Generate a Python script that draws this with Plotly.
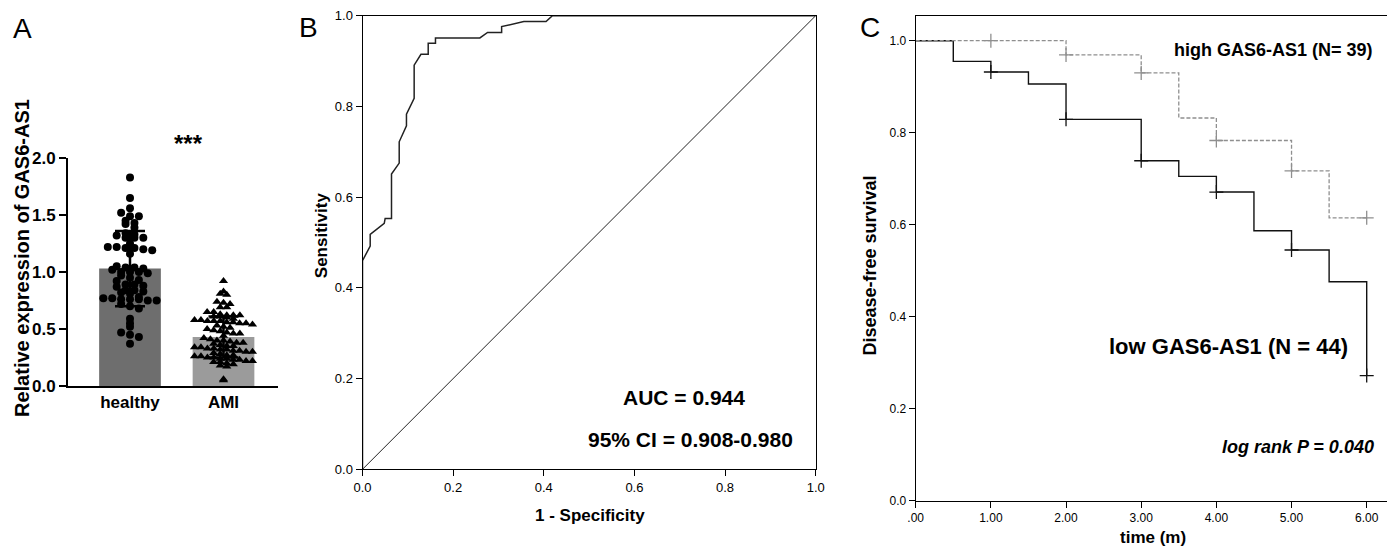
import plotly.graph_objects as go
import numpy as np

# ---------------- data ----------------
# Panel A
groups = ["healthy", "AMI"]
bar_means = [1.03, 0.43]
bar_sds = [0.33, 0.18]
healthy_vals = [1.83, 1.65, 1.56, 1.52, 1.49, 1.49, 1.45, 1.43, 1.42, 1.39,
                1.34, 1.33, 1.32, 1.30, 1.30, 1.30,
                1.25, 1.22, 1.22, 1.21, 1.21, 1.20, 1.19, 1.16,
                1.05, 1.04, 1.04, 1.03, 1.02, 1.00, 1.00, 1.00, 0.99, 0.97,
                0.95, 0.93, 0.92, 0.89, 0.89, 0.88, 0.87,
                0.84, 0.84, 0.83, 0.82, 0.81, 0.78,
                0.77, 0.77, 0.76, 0.76, 0.76, 0.75, 0.75,
                0.72, 0.70, 0.68, 0.59, 0.55, 0.52, 0.47, 0.45, 0.43, 0.37]
ami_vals = [0.92,
            0.83, 0.81, 0.80,
            0.74, 0.73, 0.72, 0.69, 0.69,
            0.65, 0.65, 0.63, 0.62, 0.62, 0.62, 0.61, 0.61, 0.60,
            0.59, 0.58, 0.58, 0.57, 0.57, 0.57, 0.56, 0.56, 0.55, 0.55, 0.54,
            0.53, 0.52, 0.51, 0.50, 0.49, 0.48, 0.47, 0.46, 0.46,
            0.44, 0.42, 0.41, 0.40, 0.40, 0.39, 0.38, 0.38, 0.37,
            0.36, 0.35, 0.35, 0.34, 0.34, 0.33, 0.33, 0.32, 0.32, 0.31, 0.31, 0.30, 0.30, 0.29,
            0.28, 0.27, 0.27, 0.26, 0.26, 0.25, 0.25, 0.24, 0.24, 0.23, 0.23, 0.22, 0.22,
            0.21, 0.21, 0.20, 0.19, 0.18, 0.17,
            0.06, 0.05]
yticks_a = [0.0, 0.5, 1.0, 1.5, 2.0]

# Panel B (ROC)
roc_fpr = [0, 0, 0.017, 0.017, 0.048, 0.050, 0.064, 0.064, 0.081, 0.081, 0.097, 0.097,
           0.114, 0.114, 0.129, 0.145, 0.145, 0.161, 0.161, 0.259, 0.276, 0.307, 0.307,
           0.356, 0.405, 0.419, 1.0]
roc_tpr = [0, 0.46, 0.492, 0.518, 0.542, 0.553, 0.553, 0.651, 0.675, 0.722, 0.757, 0.783,
           0.818, 0.891, 0.915, 0.915, 0.939, 0.939, 0.951, 0.951, 0.963, 0.963, 0.976,
           0.987, 0.987, 1.0, 1.0]
ref_line = [0, 1]
ticks_b = [0.0, 0.2, 0.4, 0.6, 0.8, 1.0]

# Panel C (Kaplan-Meier)
low_t = [0, 0.5, 1.0, 1.5, 2.0, 3.0, 3.5, 4.0, 4.5, 5.0, 5.5, 6.0]
low_s = [1.0, 0.955, 0.932, 0.906, 0.829, 0.739, 0.705, 0.671, 0.587, 0.545, 0.476, 0.272]
low_cens_t = [1, 2, 3, 4, 5, 6]
low_cens_s = [0.932, 0.829, 0.739, 0.671, 0.545, 0.272]
high_t = [0, 2.0, 3.0, 3.5, 4.0, 5.0, 5.5, 6.0]
high_s = [1.0, 0.969, 0.930, 0.832, 0.783, 0.717, 0.615, 0.615]
high_cens_t = [1, 2, 3, 4, 5, 6]
high_cens_s = [1.0, 0.969, 0.930, 0.783, 0.717, 0.615]
xticks_c = [0, 1, 2, 3, 4, 5, 6]
xticklabels_c = [".00", "1.00", "2.00", "3.00", "4.00", "5.00", "6.00"]
yticks_c = [0.0, 0.2, 0.4, 0.6, 0.8, 1.0]

# ---------------- layout helpers ----------------
W, H = 1395, 553          # window size
OFF = 8                   # page body margin
FW, FH = W - OFF, H - OFF  # figure size so it fits the window
def px(x):
    return (x - OFF) / FW
def py(y):
    return 1 - (y - OFF) / FH

FONT = "Liberation Sans, Arial, Helvetica, sans-serif"

def swarm(vals, center, binw, spacing, maxhalf):
    vals = sorted(vals, reverse=True)
    bins = {}
    for v in vals:
        bins.setdefault(int(round(v / binw)), []).append(v)
    xs, ys = [], []
    for k, row in bins.items():
        n = len(row)
        step = spacing if n <= 1 else min(spacing, 2 * maxhalf / (n - 1))
        for i, v in enumerate(row):
            xs.append(center + (i - (n - 1) / 2) * step)
            ys.append(v)
    return xs, ys

fig = go.Figure()

# ---------------- Panel A ----------------
fig.add_trace(go.Bar(x=[0, 1], y=bar_means, width=0.66,
                     marker=dict(color=["#6e6e6e", "#9b9b9b"], line=dict(width=0)),
                     error_y=dict(type="data", array=bar_sds, visible=True,
                                  color="black", thickness=2.5, width=15),
                     xaxis="x", yaxis="y"))
hx, hy = swarm(healthy_vals, 0, 0.05, 0.095, 0.30)
fig.add_trace(go.Scatter(x=hx, y=hy, mode="markers",
                         marker=dict(symbol="circle", size=8, color="black"),
                         xaxis="x", yaxis="y"))
ax_, ay_ = swarm(ami_vals, 1, 0.04, 0.07, 0.31)
fig.add_trace(go.Scatter(x=ax_, y=ay_, mode="markers",
                         marker=dict(symbol="triangle-up", size=8, color="black"),
                         xaxis="x", yaxis="y"))

# ---------------- Panel B ----------------
fig.add_trace(go.Scatter(x=ref_line, y=ref_line, mode="lines",
                         line=dict(color="#222", width=1), xaxis="x2", yaxis="y2"))
fig.add_trace(go.Scatter(x=roc_fpr, y=roc_tpr, mode="lines",
                         line=dict(color="#222", width=1.5), xaxis="x2", yaxis="y2"))

# ---------------- Panel C ----------------
fig.add_trace(go.Scatter(x=low_t, y=low_s, mode="lines", line_shape="hv",
                         line=dict(color="#111", width=1.4), xaxis="x3", yaxis="y3"))
fig.add_trace(go.Scatter(x=low_cens_t, y=low_cens_s, mode="markers",
                         marker=dict(symbol="cross-thin", size=10,
                                     line=dict(color="#111", width=1.3)),
                         xaxis="x3", yaxis="y3"))
fig.add_trace(go.Scatter(x=high_t, y=high_s, mode="lines", line_shape="hv",
                         line=dict(color="#8f8f8f", width=1.3, dash="4px,2px"),
                         xaxis="x3", yaxis="y3"))
fig.add_trace(go.Scatter(x=high_cens_t, y=high_cens_s, mode="markers",
                         marker=dict(symbol="cross-thin", size=10,
                                     line=dict(color="#8f8f8f", width=1.3)),
                         xaxis="x3", yaxis="y3"))

# ---------------- axes ----------------
a_left, a_right, a_bottom, a_top = 68, 278, 386, 158
a_c0, a_c1 = 130, 223.5
a_unit = a_c1 - a_c0
b_left, b_right, b_bottom, b_top = 362.5, 815.7, 469.3, 15.7
c_left, c_x6, c_bottom, c_y1, c_top = 915.7, 1366.7, 500.7, 40.7, 15.7
c_unitx = (c_x6 - c_left) / 6
c_unity = c_bottom - c_y1

fig.update_layout(
    template="none",
    width=FW, height=FH, margin=dict(l=0, r=0, t=0, b=0, autoexpand=False),
    plot_bgcolor="white", paper_bgcolor="white", showlegend=False,
    font=dict(family=FONT, color="black"),
    xaxis=dict(domain=[px(a_left), px(a_right)],
               range=[(a_left - a_c0) / a_unit, (a_right - a_c0) / a_unit],
               showline=True, linecolor="black", linewidth=2, showgrid=False, zeroline=False,
               tickvals=[0, 1], ticktext=groups, ticks="", automargin=False,
               tickfont=dict(size=17, weight="bold", color="black"), anchor="y"),
    yaxis=dict(domain=[py(a_bottom), py(a_top)], range=[0, 2.0],
               showline=True, linecolor="black", linewidth=2, showgrid=False, zeroline=False,
               tickvals=yticks_a, tickformat=".1f", ticks="outside", ticklen=7, tickwidth=2,
               tickcolor="black", tickfont=dict(size=17, weight="bold", color="black"),
               anchor="x", automargin=False),
    xaxis2=dict(domain=[px(b_left), px(b_right)], range=[0, 1],
                showline=True, mirror=True, linecolor="black", linewidth=1,
                showgrid=False, zeroline=False, tickvals=ticks_b, tickformat=".1f",
                ticks="outside", ticklen=6, tickcolor="black", automargin=False,
                tickfont=dict(size=13, color="black"), anchor="y2"),
    yaxis2=dict(domain=[py(b_bottom), py(b_top)], range=[0, 1],
                showline=True, mirror=True, linecolor="black", linewidth=1,
                showgrid=False, zeroline=False, tickvals=ticks_b, tickformat=".1f",
                ticks="outside", ticklen=6, tickcolor="black", automargin=False,
                tickfont=dict(size=13, color="black"), anchor="x2"),
    xaxis3=dict(domain=[px(c_left), 1.0], range=[0, (W - c_left) / c_unitx],
                showline=True, mirror=True, linecolor="black", linewidth=1,
                showgrid=False, zeroline=False, tickvals=xticks_c, ticktext=xticklabels_c,
                ticks="outside", ticklen=6, tickcolor="black", automargin=False,
                tickfont=dict(size=12, color="black"), anchor="y3"),
    yaxis3=dict(domain=[py(c_bottom), py(c_top)], range=[0, (c_bottom - c_top) / c_unity],
                showline=True, linecolor="black", linewidth=1,
                showgrid=False, zeroline=False, tickvals=yticks_c, tickformat=".1f",
                ticks="outside", ticklen=6, tickcolor="black", automargin=False,
                tickfont=dict(size=12, color="black"), anchor="x3"),
)

def ann(text, x, y, size, bold=True, italic=False, angle=0, xanchor="center"):
    t = text
    if bold:
        t = "<b>" + t + "</b>"
    if italic:
        t = "<i>" + t + "</i>"
    fig.add_annotation(text=t, x=px(x), y=py(y), xref="paper", yref="paper",
                       showarrow=False, xanchor=xanchor, yanchor="middle",
                       textangle=angle, font=dict(size=size, family=FONT, color="black"))

# panel letters
ann("A", 22, 28, 28, bold=False)
ann("B", 308, 27, 28, bold=False)
ann("C", 870, 27, 28, bold=False)
# panel A
ann("Relative expression of GAS6-AS1", 22, 258, 20, angle=-90)
ann("***", 188, 143, 24)
# panel B
ann("Sensitivity", 321.7, 235.5, 17, angle=-90)
ann("1 - Specificity", 590, 515, 17)
ann("AUC = 0.944", 684, 397, 21)
ann("95% CI = 0.908-0.980", 690, 439, 21)
# panel C
ann("Disease-free survival", 870, 265.5, 18, angle=-90)
ann("time (m)", 1153, 537, 17)
ann("high GAS6-AS1 (N= 39)", 1273, 50, 18)
ann("low GAS6-AS1 (N = 44)", 1228, 346, 22)
ann("log rank P = 0.040", 1298, 447, 18, italic=True)

fig.write_html("out.html")
